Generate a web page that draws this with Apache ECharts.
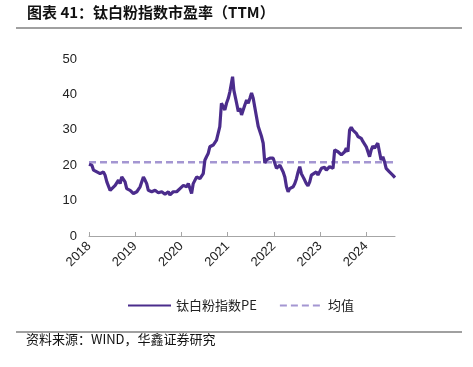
<!DOCTYPE html>
<html><head><meta charset="utf-8">
<script src="https://cdn.jsdelivr.net/npm/echarts@6/dist/echarts.min.js"></script>
<style>html,body{margin:0;padding:0;background:#fff}#c{width:473px;height:367px}</style>
</head><body><div id="c"></div>
<script>
const titleText = '图表 41：钛白粉指数市盈率（TTM）';
const sourceText = '资料来源：WIND，华鑫证券研究';
const seriesNames = ['钛白粉指数PE', '均值'];
const yTicks = [0, 10, 20, 30, 40, 50];
const dates = [
'2018-01-01','2018-01-24','2018-02-06','2018-03-04','2018-03-30','2018-04-25','2018-05-08','2018-05-22','2018-06-17','2018-06-30',
'2018-07-27','2018-08-09','2018-08-22','2018-09-04','2018-09-17','2018-09-30','2018-10-13','2018-10-26','2018-11-22','2018-12-18',
'2019-01-14','2019-02-09','2019-03-07','2019-03-20','2019-04-02','2019-04-15','2019-05-12','2019-06-07','2019-07-03','2019-07-30',
'2019-08-25','2019-09-20','2019-10-03','2019-10-29','2019-11-25','2019-12-21','2020-01-17','2020-02-12','2020-02-25','2020-03-09',
'2020-03-22','2020-04-04','2020-05-01','2020-05-27','2020-06-22','2020-07-05','2020-07-18','2020-07-31','2020-08-13','2020-09-09',
'2020-09-22','2020-10-05','2020-10-18','2020-10-31','2020-11-13','2020-11-27','2020-12-10','2020-12-23','2021-01-06','2021-01-19',
'2021-02-01','2021-02-09','2021-02-19','2021-03-13','2021-03-26','2021-04-08','2021-04-21','2021-05-04','2021-05-17','2021-05-31',
'2021-06-13','2021-06-26','2021-07-09','2021-07-22','2021-08-17','2021-08-31','2021-09-26','2021-10-09','2021-10-22','2021-11-04',
'2021-12-01','2021-12-27','2022-01-09','2022-01-22','2022-02-04','2022-02-18','2022-03-03','2022-03-16','2022-03-29','2022-04-11',
'2022-04-24','2022-05-07','2022-06-03','2022-06-16','2022-06-29','2022-07-12','2022-07-25','2022-08-07','2022-08-20','2022-09-02',
'2022-09-15','2022-09-28','2022-10-12','2022-10-25','2022-11-07','2022-12-03','2022-12-16','2023-01-12','2023-02-07','2023-02-20',
'2023-03-18','2023-04-14','2023-04-27','2023-05-23','2023-06-19','2023-07-15','2023-07-28','2023-08-10','2023-08-23','2023-09-05',
'2023-09-18','2023-10-15','2023-10-28','2023-11-23','2023-12-06','2024-01-02','2024-01-15','2024-01-28','2024-02-10','2024-02-23',
'2024-03-07','2024-03-20','2024-04-02','2024-04-15','2024-04-28','2024-05-12','2024-05-25','2024-06-07','2024-06-20','2024-07-03',
'2024-07-16','2024-07-29','2024-08-16'
];
const peValues = [
20.3,20.0,18.6,18.1,17.6,18.1,17.2,15.3,12.9,13.4,
14.3,13.9,15.8,14.8,16.7,17.2,15.3,13.4,12.9,12.0,
12.5,13.9,16.7,15.8,14.8,12.9,12.5,12.9,12.2,12.5,
11.8,12.5,11.6,12.5,12.5,13.4,14.3,13.9,14.8,13.4,
12.0,14.8,16.7,16.2,17.6,21.4,22.4,23.3,25.2,25.7,
25.2,27.1,27.6,30.9,37.5,37.0,35.6,37.5,38.9,40.8,
41.2,45.0,41.2,37.5,35.2,36.1,34.2,35.6,37.0,38.4,
37.5,38.9,40.4,38.9,33.7,30.9,28.1,26.2,20.6,21.5,
22.0,22.0,21.5,19.1,18.6,20.0,19.6,18.1,16.7,13.9,
12.5,13.4,13.9,14.8,16.2,18.1,19.6,17.6,16.7,15.8,
14.8,14.2,15.3,17.2,17.6,18.1,17.2,19.1,19.4,18.6,
19.6,19.1,24.3,23.8,22.9,23.8,24.8,23.8,29.9,30.7,
29.9,29.0,28.1,27.6,26.7,25.2,25.7,22.4,24.3,25.4,
24.8,25.2,26.2,23.8,21.5,22.4,21.0,19.1,18.6,18.1,
17.6,17.2,16.5
];
const meanValue = [20.8];

const peData = dates.map((d, i) => [d, peValues[i]]);
const meanData = [[dates[0], meanValue[0]], [dates[dates.length - 1], meanValue[0]]];

const chart = echarts.init(document.getElementById('c'), null, {renderer: 'canvas'});
const YEAR = 365.25 * 24 * 3600 * 1000;
chart.setOption({
  animation: false,
  backgroundColor: '#fff',
  textStyle: {fontFamily: 'Arial, "Liberation Sans", sans-serif'},
  grid: {left: 89, right: 78, top: 59, bottom: 131, containLabel: false},
  xAxis: {
    type: 'time',
    min: dates[0],
    max: dates[dates.length - 1],
    minInterval: YEAR, maxInterval: YEAR,
    axisLine: {lineStyle: {color: '#a6a6a6', width: 1}},
    axisTick: {show: true, inside: true, length: 4, lineStyle: {color: '#a6a6a6'}},
    splitLine: {show: false},
    axisLabel: {
      rotate: 45, margin: 8, color: '#222', fontSize: 13,
      fontFamily: 'Arial, "Liberation Sans", sans-serif',
      formatter: v => String(new Date(v).getFullYear()),
      showMaxLabel: false
    }
  },
  yAxis: {
    type: 'value', min: yTicks[0], max: yTicks[yTicks.length - 1], interval: 10,
    axisLine: {show: false}, axisTick: {show: false}, splitLine: {show: false},
    axisLabel: {color: '#222', fontSize: 13, margin: 12, fontFamily: 'Arial, "Liberation Sans", sans-serif'}
  },
  legend: {
    left: 122, top: 294, itemGap: 22, itemWidth: 43, itemHeight: 10,
    itemStyle: {opacity: 0},
    textStyle: {fontSize: 13, color: '#222', fontFamily: '"Noto Sans CJK SC", sans-serif'},
    data: seriesNames
  },
  series: [
    {name: seriesNames[0], type: 'line', data: peData, showSymbol: false, symbol: 'none',
     lineStyle: {color: '#4b2c8c', width: 3.2}, itemStyle: {color: '#4b2c8c'}, z: 3},
    {name: seriesNames[1], type: 'line', data: meanData, showSymbol: false, symbol: 'none',
     lineStyle: {color: '#a496d2', width: 2.5, type: [7, 4]}, itemStyle: {color: '#a496d2'}, z: 2}
  ],
  graphic: [
    {type: 'text', left: 27, top: 5, style: {text: titleText, fontSize: 15, fontWeight: 'bold',
      fontFamily: '"Noto Sans CJK SC", sans-serif', fill: '#111'}},
    {type: 'line', shape: {x1: 16, y1: 28, x2: 462, y2: 28}, style: {stroke: '#808080', lineWidth: 1.5}},
    {type: 'line', shape: {x1: 16, y1: 332, x2: 462, y2: 332}, style: {stroke: '#808080', lineWidth: 1.5}},
    {type: 'text', left: 26, top: 333, style: {text: sourceText, fontSize: 13,
      fontFamily: '"Noto Sans CJK SC", sans-serif', fill: '#111'}}
  ]
});
</script></body></html>
